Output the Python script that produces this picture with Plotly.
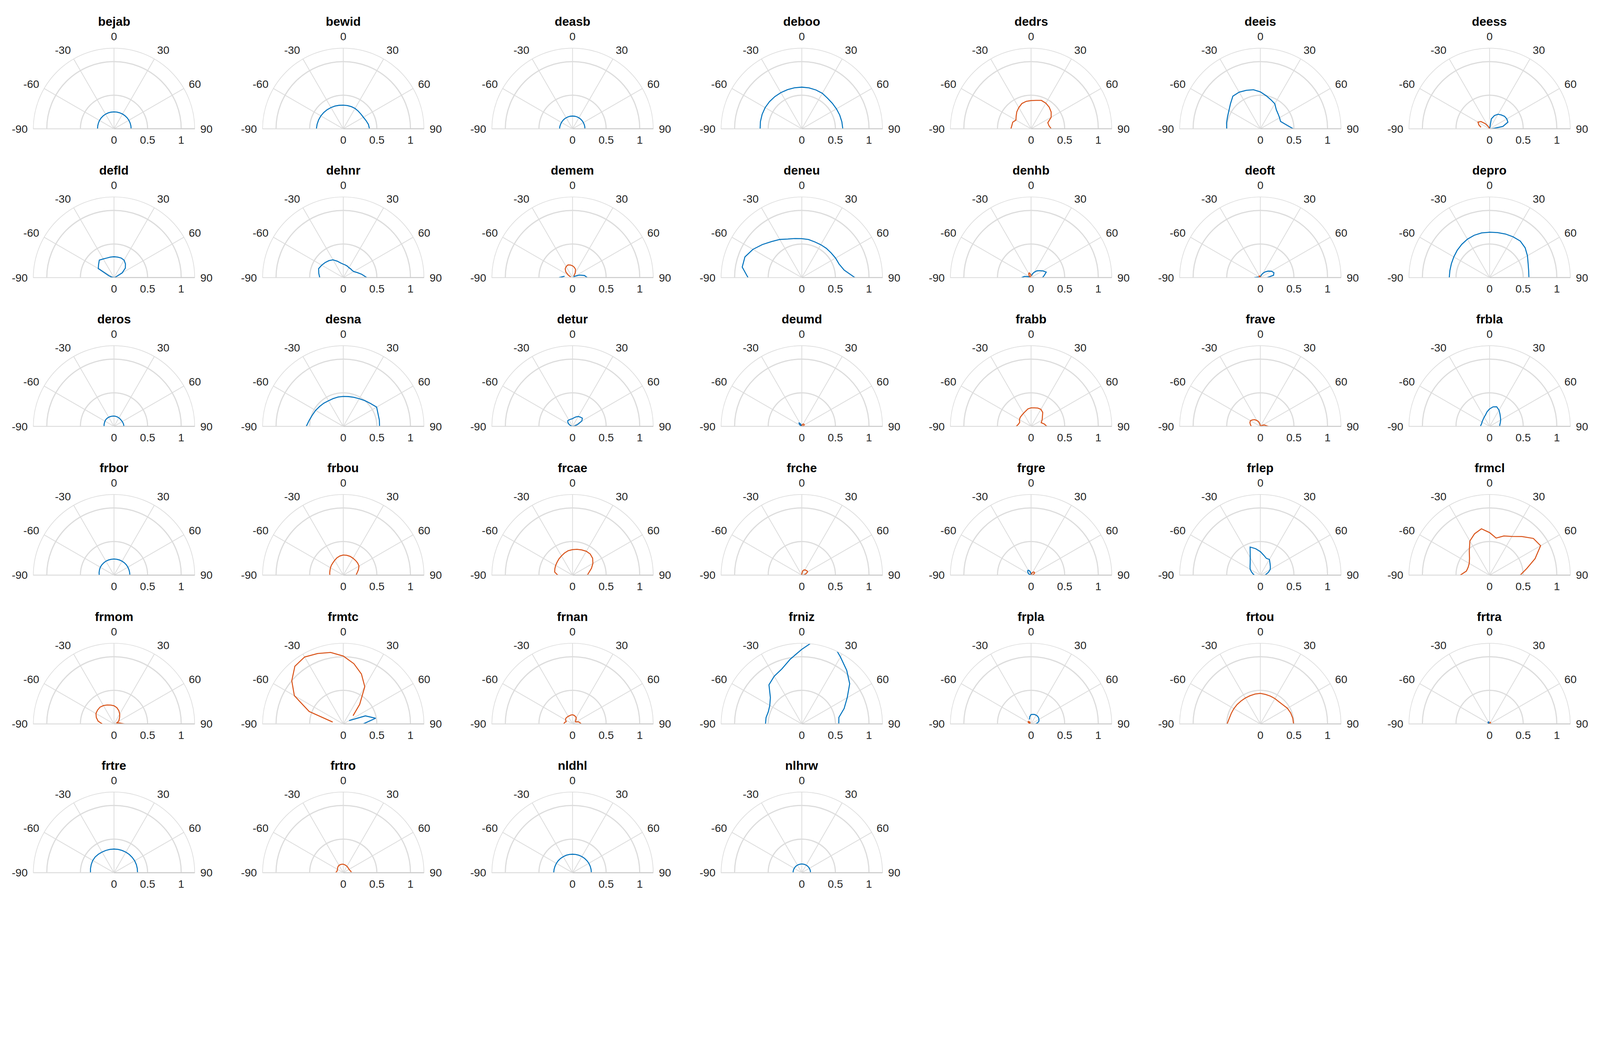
import plotly.graph_objects as go

# ---------------- data ----------------
THETA = [-90, -80, -70, -60, -50, -40, -30, -20, -10, 0, 10, 20, 30, 40, 50, 60, 70, 80, 90]
ANG_TICKS = [-90, -60, -30, 0, 30, 60, 90]
R_TICKS = [0, 0.5, 1]
R_TICK_TEXT = ["0", "0.5", "1"]
R_MAX = 1.2

STATIONS = ["bejab", "bewid", "deasb", "deboo", "dedrs", "deeis", "deess",
            "defld", "dehnr", "demem", "deneu", "denhb", "deoft", "depro",
            "deros", "desna", "detur", "deumd", "frabb", "frave", "frbla",
            "frbor", "frbou", "frcae", "frche", "frgre", "frlep", "frmcl",
            "frmom", "frmtc", "frnan", "frniz", "frpla", "frtou", "frtra",
            "frtre", "frtro", "nldhl", "nlhrw"]

# signed values: positive -> blue curve, negative -> orange curve (radius = |value|)
bejab = [0.245, 0.246, 0.247, 0.249, 0.25, 0.251, 0.252, 0.252, 0.252, 0.252, 0.253, 0.253, 0.254, 0.254, 0.255, 0.255, 0.255, 0.255, 0.255]
bewid = [0.40, 0.395, 0.39, 0.385, 0.378, 0.372, 0.365, 0.36, 0.355, 0.352, 0.352, 0.351, 0.35, 0.345, 0.342, 0.345, 0.36, 0.38, 0.39]
deasb = [0.193, 0.192, 0.19, 0.19, 0.19, 0.19, 0.19, 0.19, 0.19, 0.19, 0.19, 0.19, 0.189, 0.188, 0.187, 0.186, 0.185, 0.185, 0.184]
deboo = [0.62, 0.625, 0.628, 0.63, 0.628, 0.625, 0.622, 0.62, 0.62, 0.62, 0.618, 0.615, 0.61, 0.595, 0.592, 0.595, 0.6, 0.605, 0.61]
dedrs = [-0.30, -0.29, -0.29, -0.26, -0.29, -0.33, -0.365, -0.40, -0.415, -0.42, -0.43, -0.45, -0.44, -0.42, -0.39, -0.345, -0.265, -0.27, -0.30]
deeis = [0.50, 0.51, 0.52, 0.54, 0.58, 0.635, 0.63, 0.61, 0.59, 0.55, 0.50, 0.46, 0.43, 0.37, 0.345, 0.33, 0.32, 0.38, 0.49]
deess = [None, -0.13, -0.17, -0.20, -0.17, -0.10, -0.04, -0.01, 0.0, 0.0, 0.15, 0.21, 0.25, 0.27, 0.29, 0.295, 0.29, 0.2, 0.03]
defld = [0.0, 0.03, 0.08, 0.27, 0.30, 0.34, 0.32, 0.31, 0.31, 0.31, 0.31, 0.31, 0.30, 0.265, 0.22, 0.14, 0.03, 0.01, 0.0]
dehnr = [0.35, 0.37, 0.39, 0.37, 0.35, 0.33, 0.305, 0.26, 0.22, 0.20, 0.19, 0.18, 0.17, 0.17, 0.17, 0.18, 0.22, 0.28, 0.35]
demem = [0.2, 0.12, -0.03, -0.07, -0.13, -0.17, -0.19, -0.20, -0.19, -0.175, -0.155, -0.13, -0.08, -0.03, 0.02, 0.04, 0.11, 0.18, 0.22]
deneu = [0.80, 0.90, 0.90, 0.84, 0.765, 0.70, 0.655, 0.61, 0.59, 0.58, 0.575, 0.565, 0.565, 0.568, 0.57, 0.58, 0.59, 0.64, 0.79]
denhb = [0.14, 0.10, 0.04, 0.0, -0.03, -0.05, -0.07, -0.075, -0.05, -0.02, 0.03, 0.06, 0.09, 0.13, 0.16, 0.2, 0.24, 0.2, 0.17]
deoft = [0.09, 0.04, 0.0, -0.01, -0.02, -0.03, -0.03, -0.02, -0.01, 0.0, 0.02, 0.04, 0.07, 0.11, 0.15, 0.19, 0.215, 0.2, 0.1]
depro = [0.60, 0.60, 0.605, 0.615, 0.63, 0.645, 0.66, 0.67, 0.675, 0.675, 0.68, 0.69, 0.70, 0.71, 0.69, 0.65, 0.61, 0.59, 0.585]
deros = [0.148, 0.15, 0.152, 0.155, 0.158, 0.158, 0.157, 0.155, 0.154, 0.153, 0.151, 0.149, 0.146, 0.143, 0.141, 0.142, 0.144, 0.146, 0.148]
desna = [0.55, 0.515, 0.49, 0.475, 0.46, 0.45, 0.44, 0.44, 0.443, 0.445, 0.45, 0.46, 0.475, 0.50, 0.53, 0.573, 0.55, 0.545, 0.54]
detur = [0.0, 0.01, 0.03, 0.06, 0.09, 0.11, 0.11, 0.11, 0.11, 0.115, 0.13, 0.15, 0.17, 0.18, 0.19, 0.16, 0.08, 0.03, 0.0]
deumd = [0.0, 0.005, 0.01, 0.02, 0.04, 0.07, 0.05, 0.02, 0.0, -0.01, -0.02, -0.03, -0.04, -0.045, -0.045, -0.04, -0.03, -0.015, 0.0]
frabb = [-0.22, -0.19, -0.18, -0.2, -0.21, -0.215, -0.225, -0.24, -0.265, -0.275, -0.28, -0.29, -0.293, -0.27, -0.22, -0.19, -0.16, -0.2, -0.235]
frave = [-0.135, -0.15, -0.165, -0.17, -0.15, -0.13, -0.1, -0.075, -0.04, -0.01, -0.005, -0.005, -0.005, -0.005, -0.01, -0.03, -0.06, -0.08, -0.12]
frbla = [0.135, 0.13, 0.125, 0.13, 0.135, 0.145, 0.16, 0.18, 0.22, 0.26, 0.295, 0.31, 0.28, 0.24, 0.21, 0.19, 0.17, 0.155, 0.15]
frbor = [0.22, 0.225, 0.23, 0.235, 0.237, 0.238, 0.24, 0.24, 0.24, 0.24, 0.24, 0.24, 0.24, 0.24, 0.239, 0.238, 0.237, 0.236, 0.236]
frbou = [-0.20, -0.205, -0.21, -0.22, -0.23, -0.24, -0.255, -0.275, -0.29, -0.30, -0.30, -0.298, -0.29, -0.285, -0.28, -0.27, -0.24, -0.21, -0.19]
frcae = [-0.22, -0.27, -0.28, -0.29, -0.30, -0.315, -0.33, -0.35, -0.37, -0.38, -0.39, -0.40, -0.41, -0.41, -0.39, -0.35, -0.3, -0.25, -0.22]
frche = [0.005, 0.005, 0.005, 0.005, 0.005, 0.005, 0.005, 0.005, 0.0, -0.02, -0.06, -0.08, -0.09, -0.095, -0.1, -0.1, -0.07, -0.04, -0.02]
frgre = [0.0, 0.01, 0.02, 0.04, 0.06, 0.08, 0.085, 0.07, 0.04, 0.01, -0.01, -0.03, -0.05, -0.06, -0.065, -0.06, -0.04, -0.02, -0.01]
frlep = [0.09, 0.11, 0.14, 0.175, 0.2, 0.235, 0.3, 0.445, 0.40, 0.35, 0.30, 0.265, 0.27, 0.225, 0.195, 0.17, 0.13, 0.09, 0.07]
frmcl = [-0.436, -0.35, -0.34, -0.35, -0.39, -0.47, -0.587, -0.655, -0.70, -0.633, -0.56, -0.62, -0.665, -0.75, -0.85, -0.876, -0.72, -0.56, -0.455]
frmom = [-0.175, -0.24, -0.28, -0.31, -0.32, -0.325, -0.315, -0.30, -0.285, -0.27, -0.245, -0.21, -0.17, -0.13, -0.1, -0.08, -0.04, -0.08, -0.157]
frmtc = [None, -0.16, -0.54, -0.84, -1.0, -1.12, -1.15, -1.115, -1.08, -1.01, -0.91, -0.79, -0.64, -0.38, -0.19, 0.1, 0.35, 0.49, 0.297]
frnan = [-0.13, -0.12, -0.1, -0.12, -0.13, -0.13, -0.13, -0.13, -0.135, -0.137, -0.13, -0.12, -0.11, -0.08, -0.055, -0.06, -0.095, -0.11, -0.13]
frniz = [0.54, 0.54, 0.53, 0.55, 0.61, 0.76, 0.82, 0.87, 0.98, 1.11, 1.28, 1.3, 1.15, 1.04, 0.93, 0.78, 0.67, 0.56, 0.55]
frpla = [0.0, -0.01, -0.03, -0.05, -0.055, -0.04, -0.02, 0.07, 0.11, 0.14, 0.145, 0.15, 0.15, 0.15, 0.145, 0.135, 0.125, 0.1, 0.065]
frtou = [-0.494, -0.47, -0.46, -0.455, -0.45, -0.446, -0.445, -0.447, -0.452, -0.455, -0.445, -0.44, -0.435, -0.43, -0.44, -0.465, -0.48, -0.49, -0.494]
frtra = [0.0, 0.005, 0.01, 0.02, 0.03, 0.035, 0.035, 0.03, 0.015, 0.0, -0.01, -0.02, -0.025, -0.02, -0.015, -0.01, -0.005, 0.0, 0.0]
frtre = [0.35, 0.355, 0.36, 0.365, 0.365, 0.36, 0.355, 0.353, 0.352, 0.352, 0.352, 0.352, 0.353, 0.354, 0.354, 0.355, 0.354, 0.352, 0.35]
frtro = [-0.113, -0.1, -0.095, -0.1, -0.11, -0.12, -0.127, -0.128, -0.128, -0.126, -0.12, -0.115, -0.11, -0.105, -0.1, -0.1, -0.105, -0.115, -0.122]
nldhl = [0.28, 0.279, 0.278, 0.278, 0.278, 0.277, 0.276, 0.276, 0.275, 0.275, 0.275, 0.276, 0.277, 0.278, 0.279, 0.28, 0.28, 0.28, 0.28]
nlhrw = [0.13, 0.13, 0.13, 0.13, 0.13, 0.13, 0.13, 0.13, 0.13, 0.13, 0.13, 0.13, 0.13, 0.13, 0.13, 0.13, 0.13, 0.13, 0.13]

SERIES = [bejab, bewid, deasb, deboo, dedrs, deeis, deess,
          defld, dehnr, demem, deneu, denhb, deoft, depro,
          deros, desna, detur, deumd, frabb, frave, frbla,
          frbor, frbou, frcae, frche, frgre, frlep, frmcl,
          frmom, frmtc, frnan, frniz, frpla, frtou, frtra,
          frtre, frtro, nldhl, nlhrw]

# ---------------- geometry (target screen pixels -> css pixels) ----------------
SCALE = 4800 / 4096          # screen pixels per css pixel
BODY = 8                     # default page margin (css px)
W_CSS, H_CSS = 4080, 2298    # figure size in css px

NCOLS = 7
X0, DX = 342.0, 687.8        # panel centre x and column pitch (screen px)
Y0, DY = 386.5, 446.4        # panel baseline y and row pitch (screen px)
RAD = 242.0                  # polar radius (screen px)
TITLE_OFF = 322.0            # title centre above baseline (screen px)


def px(v):
    """screen-pixel length -> css-pixel length"""
    return v / SCALE


BLUE = "#0072BD"
ORANGE = "#D95319"
GRID = "#dcdcdc"
EDGE = "#cccccc"
TXT = "#262626"
FONT = "Liberation Sans, Arial, Helvetica, sans-serif"
TICK_SIZE = px(33)
TITLE_SIZE = px(37)

fig = go.Figure()
layout = dict(width=W_CSS, height=H_CSS, margin=dict(l=0, r=0, t=0, b=0),
              paper_bgcolor="white", plot_bgcolor="white", showlegend=False,
              font=dict(family=FONT, color=TXT))
annotations = []
R_C = px(RAD)

for i, (name, vals) in enumerate(zip(STATIONS, SERIES)):
    row, col = divmod(i, NCOLS)
    cx = px(X0 + col * DX) - BODY
    cy = px(Y0 + row * DY) - BODY
    key = "polar" if i == 0 else f"polar{i + 1}"
    blue_r = [v if (v is not None and v >= 0) else None for v in vals]
    orange_r = [-v if (v is not None and v <= 0) else None for v in vals]
    for rr, colr in ((blue_r, BLUE), (orange_r, ORANGE)):
        if all(x is None for x in rr):
            continue
        fig.add_trace(go.Scatterpolar(r=rr, theta=THETA, mode="lines",
                                      line=dict(color=colr, width=px(3)),
                                      connectgaps=False, subplot=key,
                                      hoverinfo="skip"))
    layout[key] = dict(
        domain=dict(x=[(cx - R_C) / W_CSS, (cx + R_C) / W_CSS],
                    y=[1 - cy / H_CSS, 1 - (cy - R_C) / H_CSS]),
        sector=[0, 180],
        bgcolor="rgba(0,0,0,0)",
        angularaxis=dict(rotation=90, direction="clockwise",
                         tickmode="array", tickvals=ANG_TICKS,
                         ticktext=[str(t) for t in ANG_TICKS],
                         showgrid=True, gridcolor=GRID, gridwidth=px(2),
                         showline=True, linecolor=GRID, linewidth=px(2),
                         ticks="outside", ticklen=8, tickcolor="rgba(0,0,0,0)",
                         tickfont=dict(size=TICK_SIZE, color=TXT, family=FONT)),
        radialaxis=dict(range=[0, R_MAX], tickmode="array", tickvals=R_TICKS,
                        ticktext=R_TICK_TEXT, showgrid=True, gridcolor=GRID,
                        gridwidth=px(3), showline=True, linecolor=EDGE,
                        linewidth=px(3), angle=0, side="clockwise",
                        ticks="outside", ticklen=3, tickcolor="rgba(0,0,0,0)",
                        tickfont=dict(size=TICK_SIZE, color=TXT, family=FONT)),
    )
    annotations.append(dict(text=name, x=cx / W_CSS,
                            y=1 - (cy - px(TITLE_OFF)) / H_CSS,
                            xref="paper", yref="paper", xanchor="center",
                            yanchor="middle", showarrow=False,
                            font=dict(size=TITLE_SIZE, color="black", family=FONT,
                                      weight="bold")))

layout["annotations"] = annotations
fig.update_layout(**layout)
fig.write_html("out.html")
